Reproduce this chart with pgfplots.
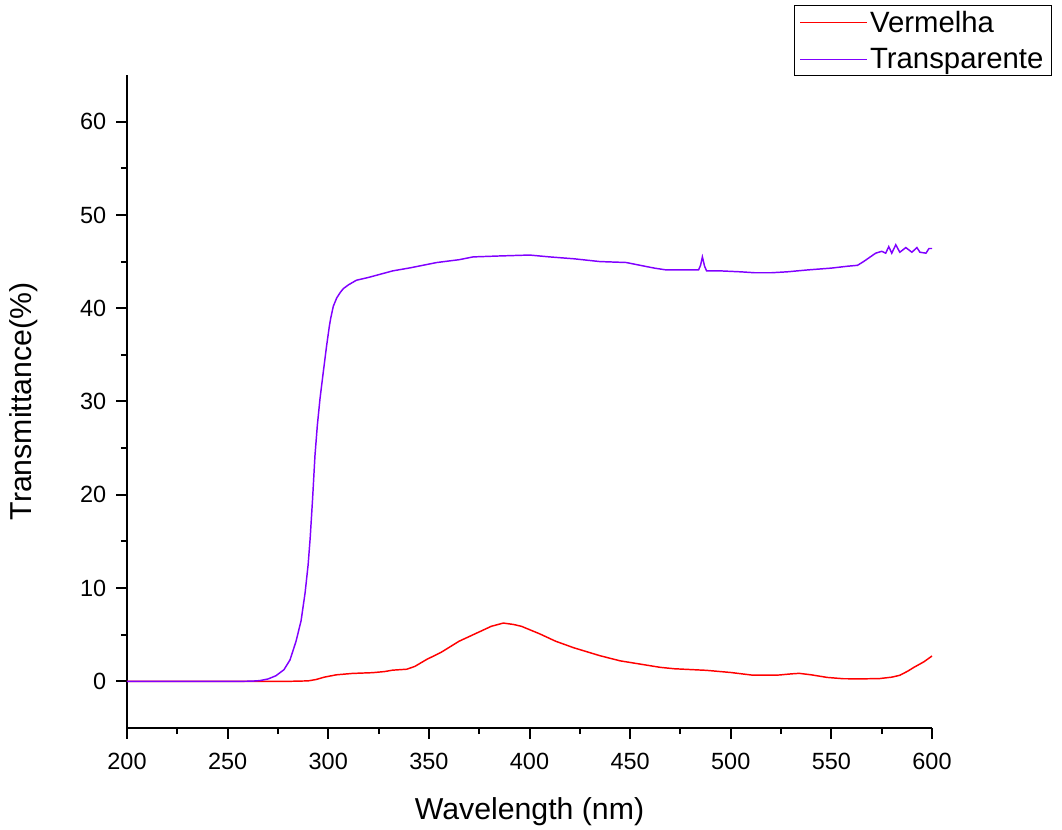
\documentclass[border=0pt]{standalone}
\usepackage{pgfplots}
\pgfplotsset{compat=1.18}
\usepackage{fontspec}
\setmainfont{Liberation Sans}
\definecolor{vred}{RGB}{255,0,0}
\definecolor{vpurple}{RGB}{128,0,255}
\pgfplotsset{
  mylegline/.style={legend image code/.code={\draw[##1, line width=1pt] (0pt,0pt) -- (50pt,0pt);}},
}
\begin{document}
\begin{tikzpicture}[x=1pt,y=1pt]
\begin{axis}[
  scale only axis,
  width=603.75pt, height=489.75pt,
  xmin=200, xmax=600, ymin=-5, ymax=65,
  axis x line*=bottom, axis y line*=left,
  axis line style={line width=1.5pt, -},
  xtick={200,250,...,600}, ytick={0,10,...,60},
  minor x tick num=1, minor y tick num=1,
  tick align=outside,
  major tick length=8pt, minor tick length=4.5pt,
  every tick/.style={black, line width=1.5pt},
  tick label style={font=\fontsize{17.6}{20}\selectfont},
  /pgf/number format/assume math mode=true,
  xticklabel style={yshift=-7pt},
  yticklabel style={xshift=-4pt},
  label style={font=\fontsize{22.7}{26}\selectfont},
  xlabel={Wavelength (nm)},
  ylabel={Transmittance(\%)},
  xlabel style={yshift=-14pt},
  ylabel style={yshift=25pt},
  legend style={at={(rel axis cs:1.149,1.107)}, anchor=north east,
    draw=black, line width=0.75pt, font=\fontsize{22}{26}\selectfont,
    inner xsep=4pt, inner ysep=2pt, row sep=6.5pt},
  legend cell align=left,
  clip=false,
]
\addplot[vred, line width=1.1pt, mylegline] coordinates {
(200,0) (260,0) (270,0) (280,0) (290,0.05) (294,0.2) (298,0.45) (304,0.7)
(312,0.85) (322,0.93) (328,1.05) (332,1.2) (339,1.3) (343,1.6) (349,2.36)
(356,3.1) (365,4.3) (375,5.3) (381,5.9) (387,6.25) (392,6.1) (396,5.9)
(405,5.1) (413,4.3) (422,3.6) (435,2.75) (445,2.2) (455,1.85) (465,1.5)
(472,1.35) (488,1.18) (500,0.95) (511,0.66) (524,0.68) (530,0.8) (534,0.86)
(540,0.7) (548,0.42) (556,0.28) (566,0.27) (574,0.3) (580,0.45) (584,0.65)
(588,1.1) (591,1.5) (596,2.1) (600,2.72)
};
\addlegendentry{Vermelha}
\addplot[vpurple, line width=1.1pt, mylegline] coordinates {
(200,0) (220,0) (240,0) (255,0) (262,0.02) (266,0.08) (270,0.25) (274,0.6)
(278,1.25) (281,2.3) (284,4.3) (286.5,6.5) (288.5,9.5) (290,12.5) (291,15.3)
(292.2,19.5) (293.4,24.2) (294.6,27.5) (295.9,30.3) (297.5,33.1) (299.2,36)
(300.5,38) (301.2,38.9) (302.5,40.2) (304.2,41.1) (306,41.7) (307.5,42.1)
(310,42.5) (314,43.0) (320,43.3) (332,44.0) (340,44.3) (354,44.9) (365,45.2)
(372,45.5) (385,45.6) (400,45.7) (410,45.5) (422,45.3) (435,45.0) (448,44.9)
(455,44.6) (462,44.3) (468,44.1) (475,44.1) (484,44.1) (485,44.6) (485.9,45.5)
(487,44.5) (488,44.0) (495,44.0) (505,43.9) (512,43.8) (520,43.8) (528,43.9)
(538,44.1) (550,44.3) (558,44.5) (563,44.6) (566,45.0) (568,45.3) (570,45.6)
(572,45.9) (575,46.1) (577,45.9) (578.5,46.6) (580,45.9) (582,46.8) (584,46.0)
(587,46.5) (590,46.0) (592.5,46.5) (594,46.0) (597,45.9) (598.5,46.4) (600,46.4)
};
\addlegendentry{Transparente}
\end{axis}
\pgfresetboundingbox
\path[use as bounding box] (-95.25pt,-76.5pt) rectangle (701.25pt,546pt);
\end{tikzpicture}
\end{document}
